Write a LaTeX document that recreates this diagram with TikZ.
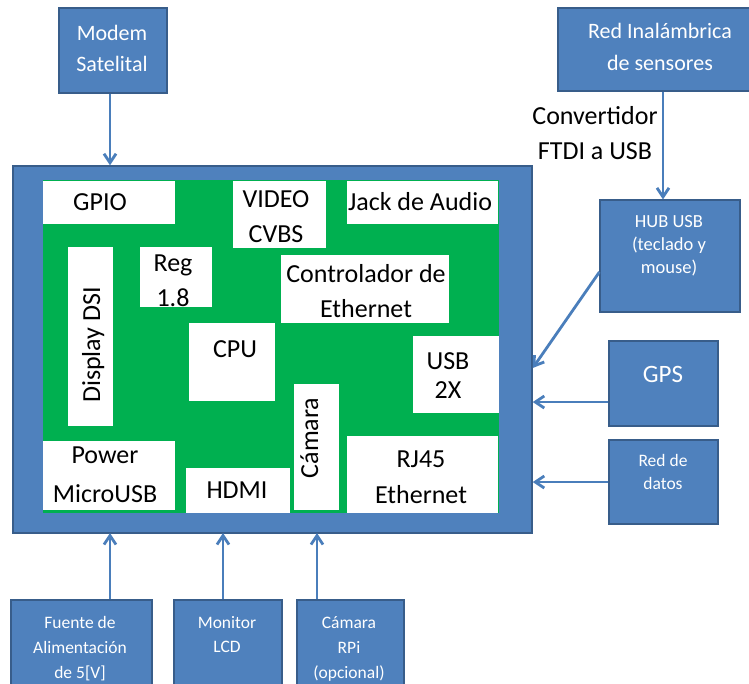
\documentclass[tikz,border=0pt]{standalone}
\usepackage{fontspec}
\setmainfont{Carlito}
\usetikzlibrary{arrows.meta,calc}
\definecolor{boxblue}{HTML}{4F81BD}
\definecolor{edgeblue}{HTML}{385D8A}
\definecolor{wireblue}{HTML}{4A7EBB}
\definecolor{pcbgreen}{HTML}{00B050}
\begin{document}
\begin{tikzpicture}[x=1pt,y=-1pt,
  ext/.style={draw=edgeblue,line width=1.2pt,fill=boxblue,inner sep=0pt},
  part/.style={fill=white,inner sep=0pt},
  txt/.style={inner sep=0pt,anchor=base,align=center,font=\fontsize{26}{35}\selectfont},
  wtxt/.style={txt,text=white},
  small/.style={txt,text=white,font=\fontsize{17.5}{24}\selectfont},
  wire/.style={draw=wireblue,line width=2.8pt,-{Straight Barb[length=9pt,width=12pt]}}
]
\useasboundingbox (0,0) rectangle (749,683);
\clip (0,0) rectangle (749,683);

% Raspberry Pi board
\node[ext,line width=1.5pt,minimum width=519pt,minimum height=367pt] (board) at (272.5,349.5) {};
\node[fill=pcbgreen,inner sep=0pt,minimum width=456pt,minimum height=333pt] (pcb) at (271,346.5) {};

% on-board components
\node[part,minimum width=132pt,minimum height=43pt] (gpio) at (109,202.5) {};
\node[part,minimum width=93pt,minimum height=67pt] (video) at (279.5,214.5) {};
\node[part,minimum width=151pt,minimum height=43pt] (jack) at (422.5,202.5) {};
\node[part,minimum width=72pt,minimum height=60pt] (reg) at (176,277) {};
\node[part,minimum width=45pt,minimum height=179pt] (dsi) at (90.5,336.5) {};
\node[part,minimum width=168pt,minimum height=68pt] (ctrl) at (365,289) {};
\node[part,minimum width=86pt,minimum height=78pt] (cpu) at (232,362) {};
\node[part,minimum width=86pt,minimum height=77pt] (usb) at (456,374.5) {};
\node[part,minimum width=45pt,minimum height=126pt] (cam) at (316.5,447) {};
\node[part,minimum width=132pt,minimum height=69pt] (power) at (109,475.5) {};
\node[part,minimum width=104pt,minimum height=45pt] (hdmi) at (238,490.5) {};
\node[part,minimum width=151pt,minimum height=77pt] (rj45) at (422.5,474.5) {};

% labels: base anchor sits on the last line's baseline
\node[txt] (gpio-t) at (100,210) {GPIO};
\node[txt] (video-t) at (276,242) {VIDEO\\CVBS};
\node[txt] (jack-t) at (420,210) {Jack de Audio};
\node[txt] (reg-t) at (173,306) {Reg\\1.8};
\node[txt,rotate=90] (dsi-t) at (100,345) {Display DSI};
\node[txt] (ctrl-t) at (366,317) {Controlador de\\Ethernet};
\node[txt] (cpu-t) at (235,357) {CPU};
\node[txt,font=\fontsize{26}{29}\selectfont] (usb-t) at (448,398) {USB\\2X};
\node[txt,rotate=90] (cam-t) at (318,438) {Cámara};
\node[txt,font=\fontsize{26}{39}\selectfont] (power-t) at (105,502) {Power\\MicroUSB};
\node[txt] (hdmi-t) at (237,498) {HDMI};
\node[txt,font=\fontsize{26}{36}\selectfont] (rj45-t) at (421,503) {RJ45\\Ethernet};

% external devices
\node[ext,minimum width=108pt,minimum height=85pt] (modem) at (113,50.5) {};
\node[wtxt,font=\fontsize{22}{31}\selectfont] (modem-t) at (112,71) {Modem\\Satelital};
\node[ext,minimum width=210pt,minimum height=83pt] (wsn) at (663,49.5) {};
\node[wtxt,font=\fontsize{22}{32}\selectfont] (wsn-t) at (660,70) {Red Inalámbrica\\de sensores};
\node[ext,minimum width=140pt,minimum height=112pt] (hub) at (670,256) {};
\node[small,font=\fontsize{18.5}{23}\selectfont] (hub-t) at (669,273) {HUB USB\\(teclado y\\mouse)};
\node[ext,minimum width=109pt,minimum height=85pt] (gps) at (663.5,383.5) {};
\node[wtxt,font=\fontsize{25}{30}\selectfont] (gps-t) at (663,382) {GPS};
\node[ext,minimum width=109pt,minimum height=84pt] (datos) at (663.5,482) {};
\node[small,font=\fontsize{17.5}{23}\selectfont] (datos-t) at (663,489) {Red de\\datos};
\node[ext,minimum width=141pt,minimum height=100pt] (fuente) at (81.5,650) {};
\node[small,font=\fontsize{17.5}{25}\selectfont] (fuente-t) at (80,678) {Fuente de\\Alimentación\\de 5[V]};
\node[ext,minimum width=108pt,minimum height=100pt] (lcd) at (228,650) {};
\node[small] (lcd-t) at (227,652) {Monitor\\LCD};
\node[ext,minimum width=107pt,minimum height=100pt] (rpicam) at (350.5,650) {};
\node[small,font=\fontsize{17.5}{25}\selectfont] (rpicam-t) at (349,678) {Cámara\\RPi\\(opcional)};

\node[txt] (ftdi) at (595,159) {Convertidor\\FTDI a USB};

% connections
\draw[wire] (modem.south -| 110,0) -- (board.north -| 110,0);
\draw[wire] (wsn.south) -- (wsn.south |- hub.north);
\draw[wire] ([yshift=-16pt]hub.west) -- ([yshift=-18.5pt]board.east);
\coordinate (gpsin) at ([yshift=-18.5pt]gps.west);
\draw[wire] (gpsin) -- (gpsin -| board.east);
\draw[wire] (datos.west) -- (datos.west -| board.east);
\coordinate (pwrpin) at (110,533);
\coordinate (hdmipin) at (223,533);
\coordinate (campin) at (317,533);
\draw[wire] (fuente.north -| pwrpin) -- (pwrpin);
\draw[wire] (lcd.north -| hdmipin) -- (hdmipin);
\draw[wire] (rpicam.north -| campin) -- (campin);
\end{tikzpicture}
\end{document}
